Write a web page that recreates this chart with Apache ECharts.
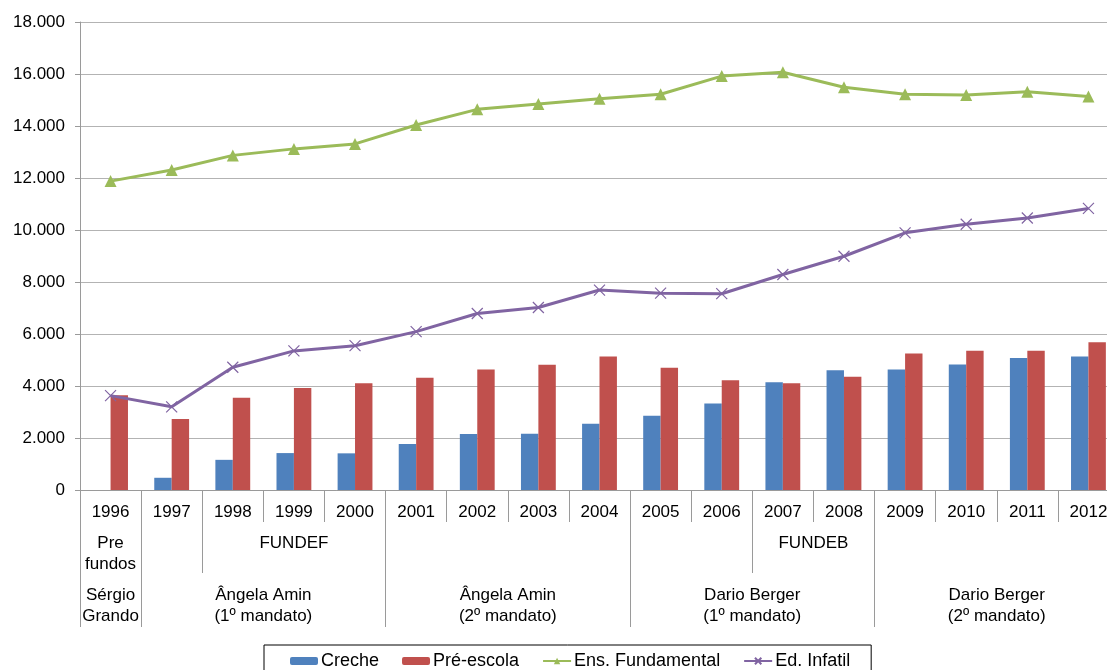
<!DOCTYPE html>
<html>
<head>
<meta charset="utf-8">
<script src="https://cdn.jsdelivr.net/npm/echarts@6/dist/echarts.min.js"></script>
<style>
  html, body { margin: 0; padding: 0; background: #fff; }
  #chart { width: 1107px; height: 670px; }
</style>
</head>
<body>
<div id="chart"></div>
<script>
// Matrículas por ano: creche, pré-escola, ensino fundamental e educação infantil
const years = ['1996', '1997', '1998', '1999', '2000', '2001', '2002', '2003', '2004',
               '2005', '2006', '2007', '2008', '2009', '2010', '2011', '2012'];
const creche = [null, 470, 1160, 1420, 1410, 1770, 2150, 2160, 2550,
                2860, 3330, 4140, 4610, 4630, 4830, 5080, 5130];
const preEscola = [3640, 2730, 3550, 3920, 4110, 4320, 4630, 4820, 5130,
                   4700, 4220, 4110, 4360, 5250, 5360, 5360, 5680];
const ensFundamental = [11880, 12310, 12870, 13120, 13310, 14040, 14640, 14850, 15050,
                        15220, 15920, 16070, 15490, 15220, 15190, 15320, 15130];
const edInfantil = [3630, 3200, 4720, 5350, 5550, 6090, 6790, 7020, 7690,
                    7570, 7550, 8290, 8990, 9890, 10220, 10460, 10830];

// Eixo Y
const yMin = 0, yMax = 18000, yStep = 2000;

// Segundo nível do eixo: fundos de financiamento (ano inicial, ano final)
const fundGroups = [
  ['Pre\nfundos', '1996', '1996'],
  ['', '1997', '1997'],
  ['FUNDEF', '1998', '2000'],
  ['', '2001', '2004'],
  ['', '2005', '2006'],
  ['FUNDEB', '2007', '2008'],
  ['', '2009', '2012']
];
// Terceiro nível do eixo: gestões municipais
const mayorGroups = [
  ['Sérgio\nGrando', '1996', '1996'],
  ['Ângela Amin\n(1º mandato)', '1997', '2000'],
  ['Ângela Amin\n(2º mandato)', '2001', '2004'],
  ['Dario Berger\n(1º mandato)', '2005', '2008'],
  ['Dario Berger\n(2º mandato)', '2009', '2012']
];

const FONT = '"Liberation Sans", Arial, sans-serif';
const GRID_GRAY = '#b3b3b3';
const AXIS_GRAY = '#9a9a9a';

function fmtThousands(v) {
  return String(v).replace(/\B(?=(\d{3})+(?!\d))/g, '.');
}

// Alinha linhas de 1px ao meio do pixel, do mesmo jeito que os ticks do eixo
function crisp(x) {
  const d = Math.round(x * 2);
  return (d + 1) % 2 === 0 ? d / 2 : (d + 1) / 2;
}

// Desenha um nível de agrupamento sob o eixo de categorias
function groupRenderer(groups, lineTop, lineBottom, textTop) {
  return function (params, api) {
    const g = groups[params.dataIndex];
    const start = api.value(0), end = api.value(1);
    const band = api.size([1, 0])[0];
    const p0 = api.coord([start, 0]);
    const p1 = api.coord([end, 0]);
    const xL = p0[0] - band / 2;
    const xR = p1[0] + band / 2;
    const base = p0[1];
    const children = [{
      type: 'line',
      shape: { x1: crisp(xL), y1: base + lineTop, x2: crisp(xL), y2: base + lineBottom },
      style: { stroke: AXIS_GRAY, lineWidth: 1 }
    }];
    if (params.dataIndex === groups.length - 1) {
      children.push({
        type: 'line',
        shape: { x1: crisp(xR), y1: base + lineTop, x2: crisp(xR), y2: base + lineBottom },
        style: { stroke: AXIS_GRAY, lineWidth: 1 }
      });
    }
    if (g[0]) {
      children.push({
        type: 'text',
        style: {
          text: g[0], x: (xL + xR) / 2, y: base + textTop,
          align: 'center', verticalAlign: 'top',
          fontSize: 17, lineHeight: 21, fontFamily: FONT, fill: '#000'
        }
      });
    }
    return { type: 'group', children: children };
  };
}

function groupData(groups) {
  return groups.map(g => [years.indexOf(g[1]), years.indexOf(g[2]), 0]);
}

const chart = echarts.init(document.getElementById('chart'), null, { renderer: 'canvas' });

chart.setOption({
  animation: false,
  backgroundColor: '#fff',
  textStyle: { fontFamily: FONT },
  grid: { left: 80, top: 22, width: 1039, height: 468, outerBoundsMode: 'none', containLabel: false },
  legend: {
    data: ['Creche', 'Pré-escola', 'Ens. Fundamental', 'Ed. Infatil'],
    left: 264, top: 645,
    borderColor: '#000', borderWidth: 1, borderRadius: 0,
    padding: [7, 21, 12, 26],
    itemGap: 23, itemWidth: 28, itemHeight: 8,
    textStyle: { fontSize: 18, color: '#000', fontFamily: FONT, padding: [0, 0, 0, -2] }
  },
  xAxis: {
    type: 'category',
    data: years,
    boundaryGap: true,
    axisLine: { lineStyle: { color: AXIS_GRAY, width: 1 } },
    axisTick: { show: true, length: 32, interval: 0, lineStyle: { color: AXIS_GRAY } },
    axisLabel: { interval: 0, margin: 14, fontSize: 17, color: '#000', fontFamily: FONT },
    splitLine: { show: false }
  },
  yAxis: {
    type: 'value',
    min: yMin, max: yMax, interval: yStep,
    axisLine: { show: true, lineStyle: { color: AXIS_GRAY, width: 1 } },
    axisTick: { show: true, length: 5, lineStyle: { color: AXIS_GRAY } },
    axisLabel: { margin: 15, fontSize: 17, color: '#000', fontFamily: FONT, formatter: fmtThousands },
    splitLine: { show: true, lineStyle: { color: GRID_GRAY, width: 1 } }
  },
  series: [
    {
      name: 'Creche', type: 'bar', data: creche,
      barGap: '0%', barCategoryGap: '43%',
      itemStyle: { color: '#4f81bd' }
    },
    {
      name: 'Pré-escola', type: 'bar', data: preEscola,
      barGap: '0%', barCategoryGap: '43%',
      itemStyle: { color: '#c0504d' }
    },
    {
      name: 'Ens. Fundamental', type: 'line', data: ensFundamental,
      symbol: 'triangle', symbolSize: 12, showAllSymbol: true,
      lineStyle: { color: '#9bbb59', width: 3 },
      itemStyle: { color: '#9bbb59' },
      z: 5
    },
    {
      name: 'Ed. Infatil', type: 'line', data: edInfantil,
      symbol: 'path://M0,0L10,10M0,10L10,0', symbolSize: 11, showAllSymbol: true,
      lineStyle: { color: '#8064a2', width: 3 },
      itemStyle: { color: '#8064a2', borderColor: '#8064a2', borderWidth: 1.2 },
      z: 5
    },
    {
      type: 'custom', name: 'fundos', silent: true, clip: false,
      data: groupData(fundGroups),
      encode: { x: [0, 1], y: 2 },
      renderItem: groupRenderer(fundGroups, 32, 83, 42.5),
      z: 3
    },
    {
      type: 'custom', name: 'gestoes', silent: true, clip: false,
      data: groupData(mayorGroups),
      encode: { x: [0, 1], y: 2 },
      renderItem: groupRenderer(mayorGroups, 0, 137, 94.5),
      z: 3
    }
  ]
});
</script>
</body>
</html>
